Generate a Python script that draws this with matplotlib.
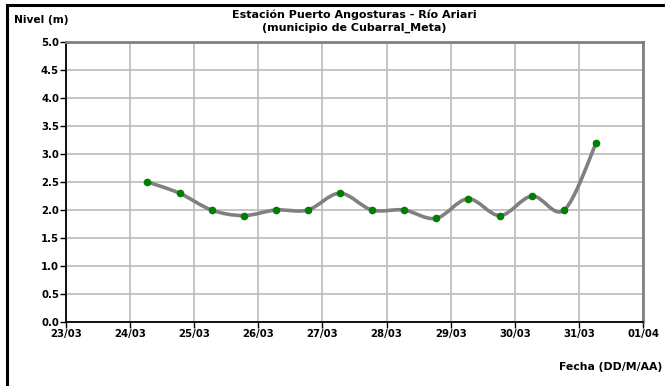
import numpy as np
import matplotlib
matplotlib.use("Agg")
import matplotlib.pyplot as plt
import matplotlib.dates as mdates
from matplotlib.path import Path
from matplotlib.patches import PathPatch, Rectangle
import datetime as dt

plt.rcParams['font.family'] = ['DejaVu Sans']

# lecturas de nivel (fecha/hora, metros)
fechas = ["2024-03-24 06:30", "2024-03-24 18:30", "2024-03-25 06:30", "2024-03-25 18:30",
          "2024-03-26 06:30", "2024-03-26 18:30", "2024-03-27 06:30", "2024-03-27 18:30",
          "2024-03-28 06:30", "2024-03-28 18:30", "2024-03-29 06:30", "2024-03-29 18:30",
          "2024-03-30 06:30", "2024-03-30 18:30", "2024-03-31 06:30"]
nivel = [2.5, 2.3, 2.0, 1.9, 2.0, 2.0, 2.3, 2.0, 2.0, 1.85, 2.2, 1.9, 2.25, 2.0, 3.2]
yticks = [0.0, 0.5, 1.0, 1.5, 2.0, 2.5, 3.0, 3.5, 4.0, 4.5, 5.0]

titulo = "Estación Puerto Angosturas - Río Ariari\n(municipio de Cubarral_Meta)"

t = [dt.datetime.strptime(f, "%Y-%m-%d %H:%M") for f in fechas]
x = mdates.date2num(t)
y = np.array(nivel)

fig = plt.figure(figsize=(6.65, 3.86), dpi=100)
ax = fig.add_axes([66 / 665, 1 - 322 / 386, 577 / 665, 280 / 386])

# smoothed line like excel (bezier segments through the points)
pts = np.column_stack([x, y])
verts = [pts[0]]
codes = [Path.MOVETO]
n = len(pts)
for i in range(n - 1):
    p0 = pts[i - 1] if i > 0 else pts[i]
    p1 = pts[i]
    p2 = pts[i + 1]
    p3 = pts[i + 2] if i + 2 < n else pts[i + 1]
    c1 = p1 + (p2 - p0) / 6
    c2 = p2 - (p3 - p1) / 6
    verts += [c1, c2, p2]
    codes += [Path.CURVE4] * 3
ax.add_patch(PathPatch(Path(verts, codes), facecolor="none", edgecolor="#808080",
                       lw=2.6, capstyle="round", zorder=3))
ax.plot(x, y, "o", color="#008000", ms=4.5, zorder=4)

ax.set_xlim(mdates.date2num(dt.datetime(2024, 3, 23)), mdates.date2num(dt.datetime(2024, 4, 1)))
ax.set_ylim(0, 5)
ax.xaxis.set_major_locator(mdates.DayLocator())
ax.xaxis.set_major_formatter(mdates.DateFormatter("%d/%m"))
ax.set_yticks(yticks)
ax.set_yticklabels([f"{v:.1f}" for v in yticks])
ax.grid(True, color="#c0c0c0", lw=1.3)
ax.set_axisbelow(True)
ax.tick_params(direction="out", length=4, width=1, color="black", labelsize=7.3, pad=1)
for lab in ax.get_xticklabels() + ax.get_yticklabels():
    lab.set_fontweight("bold")
for s in ["left", "bottom"]:
    ax.spines[s].set_color("black")
    ax.spines[s].set_linewidth(1.3)
for s in ["top", "right"]:
    ax.spines[s].set_color("#808080")
    ax.spines[s].set_linewidth(2)

fig.text(354 / 665, 1 - 9 / 386, titulo, ha="center", va="top", fontsize=8.0,
         fontweight="bold", linespacing=1.35)
fig.text(14 / 665, 1 - 20 / 386, "Nivel (m)", ha="left", va="center", fontsize=7.7, fontweight="bold")
fig.text(662 / 665, 1 - 367 / 386, "Fecha (DD/M/AA)", ha="right", va="center", fontsize=7.8,
         fontweight="bold")

fig.patches.append(Rectangle((7 / 665, -0.05), 1.0, 1 - 5 / 386 + 0.05, transform=fig.transFigure,
                             fill=False, edgecolor="black", lw=2.2))

fig.savefig("out.png", dpi=100)
